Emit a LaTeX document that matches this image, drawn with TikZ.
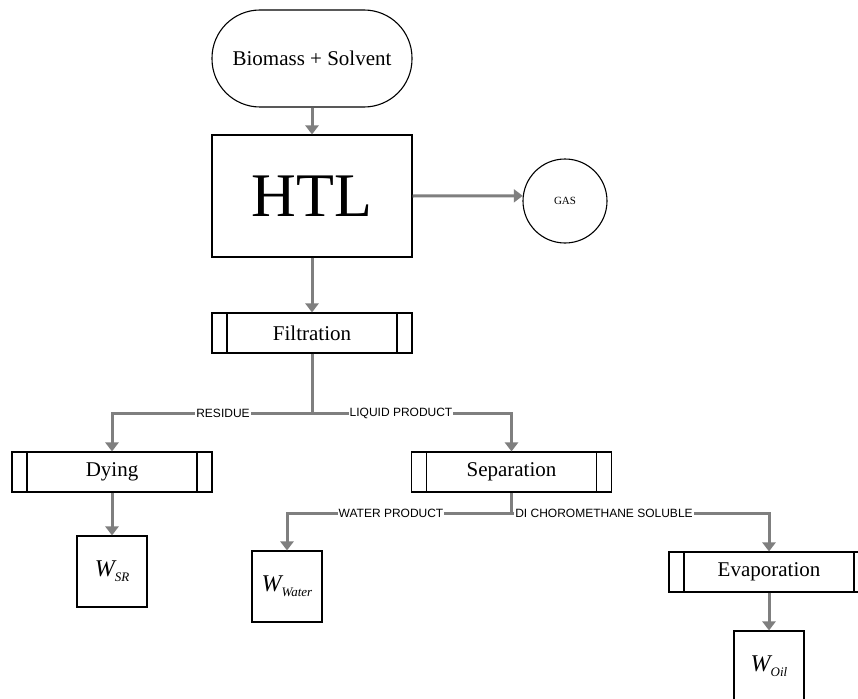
\documentclass[tikz,border=0pt]{standalone}
\usepackage{fontspec}
\setmainfont{Liberation Serif}
\newfontfamily\labfont{Liberation Sans}
\usetikzlibrary{arrows.meta}
\definecolor{conngray}{RGB}{127,127,127}
\begin{document}
\begin{tikzpicture}[x=1pt,y=-1pt,
  box/.style={draw, line width=1.1pt, inner sep=0pt},
  proc/.style={box, minimum width=200pt, minimum height=40pt, font=\fontsize{21}{24}\selectfont,
    path picture={
      \draw[line width=1.1pt] ([xshift=15pt]path picture bounding box.north west) -- ([xshift=15pt]path picture bounding box.south west);
      \draw[line width=1.1pt] ([xshift=-15pt]path picture bounding box.north east) -- ([xshift=-15pt]path picture bounding box.south east);}},
  wbox/.style={box, minimum width=70pt, minimum height=71pt, font=\fontsize{24}{26}\selectfont\itshape},
  conn/.style={draw=conngray, line width=3pt, -{Triangle[width=13pt,length=9pt]}, conngray},
  plain/.style={draw=conngray, line width=3pt},
  lbl/.style={fill=white, inner sep=1pt, font=\labfont\fontsize{12}{13}\selectfont}
]
\useasboundingbox (0,0) rectangle (858,698);
\clip (0,0) rectangle (858,698);
\fill[white] (0,0) rectangle (858,698);

\node[box, minimum width=200pt, minimum height=97pt, rounded corners=48pt, font=\fontsize{21}{24}\selectfont] (start) at (312,58.5) {Biomass + Solvent};
\node[box, minimum width=200pt, minimum height=122pt, font=\fontsize{62}{64}\selectfont] (htl) at (312,196) {HTL};
\node[box, circle, minimum size=84pt, font=\fontsize{11}{12}\selectfont] (gas) at (565,201) {GAS};
\node[proc] (filt) at (312,333) {Filtration};
\node[proc] (dying) at (112,472) {Dying};
\node[proc] (sep) at (511.5,472) {Separation};
\node[proc] (evap) at (769,572) {Evaporation};
\node[wbox] (wsr) at (112,571.5) {W\raisebox{-5pt}{\fontsize{13}{13}\selectfont SR}};
\node[wbox] (wwater) at (287,586.5) {W\raisebox{-5pt}{\fontsize{13}{13}\selectfont Water}};
\node[wbox] (woil) at (769,666.5) {W\raisebox{-5pt}{\fontsize{13}{13}\selectfont Oil}};

\coordinate (b1) at (312,413);
\coordinate (b2) at (511.5,513);

\draw[conn] (start) -- (htl);
\draw[conn] (htl.east) -- (gas.173);
\draw[conn] (htl) -- (filt);
\draw[plain] (filt.south) -- (b1);
\draw[conn] (b1) -| (dying.north);
\draw[conn] (b1) -| (sep.north);
\draw[conn] (dying) -- (wsr);
\draw[plain] (sep.south) -- (b2);
\draw[conn] (b2) -| (wwater.north);
\draw[conn] (b2) -| (evap.north);
\draw[conn] (evap) -- (woil);

\node[lbl] (lres) at (223,413) {RESIDUE};
\node[lbl] (lliq) at (401,413) {LIQUID PRODUCT};
\node[lbl] (lwat) at (391,513) {WATER PRODUCT};
\node[lbl] (ldcm) at (604,513) {DI CHOROMETHANE SOLUBLE};
\end{tikzpicture}
\end{document}
